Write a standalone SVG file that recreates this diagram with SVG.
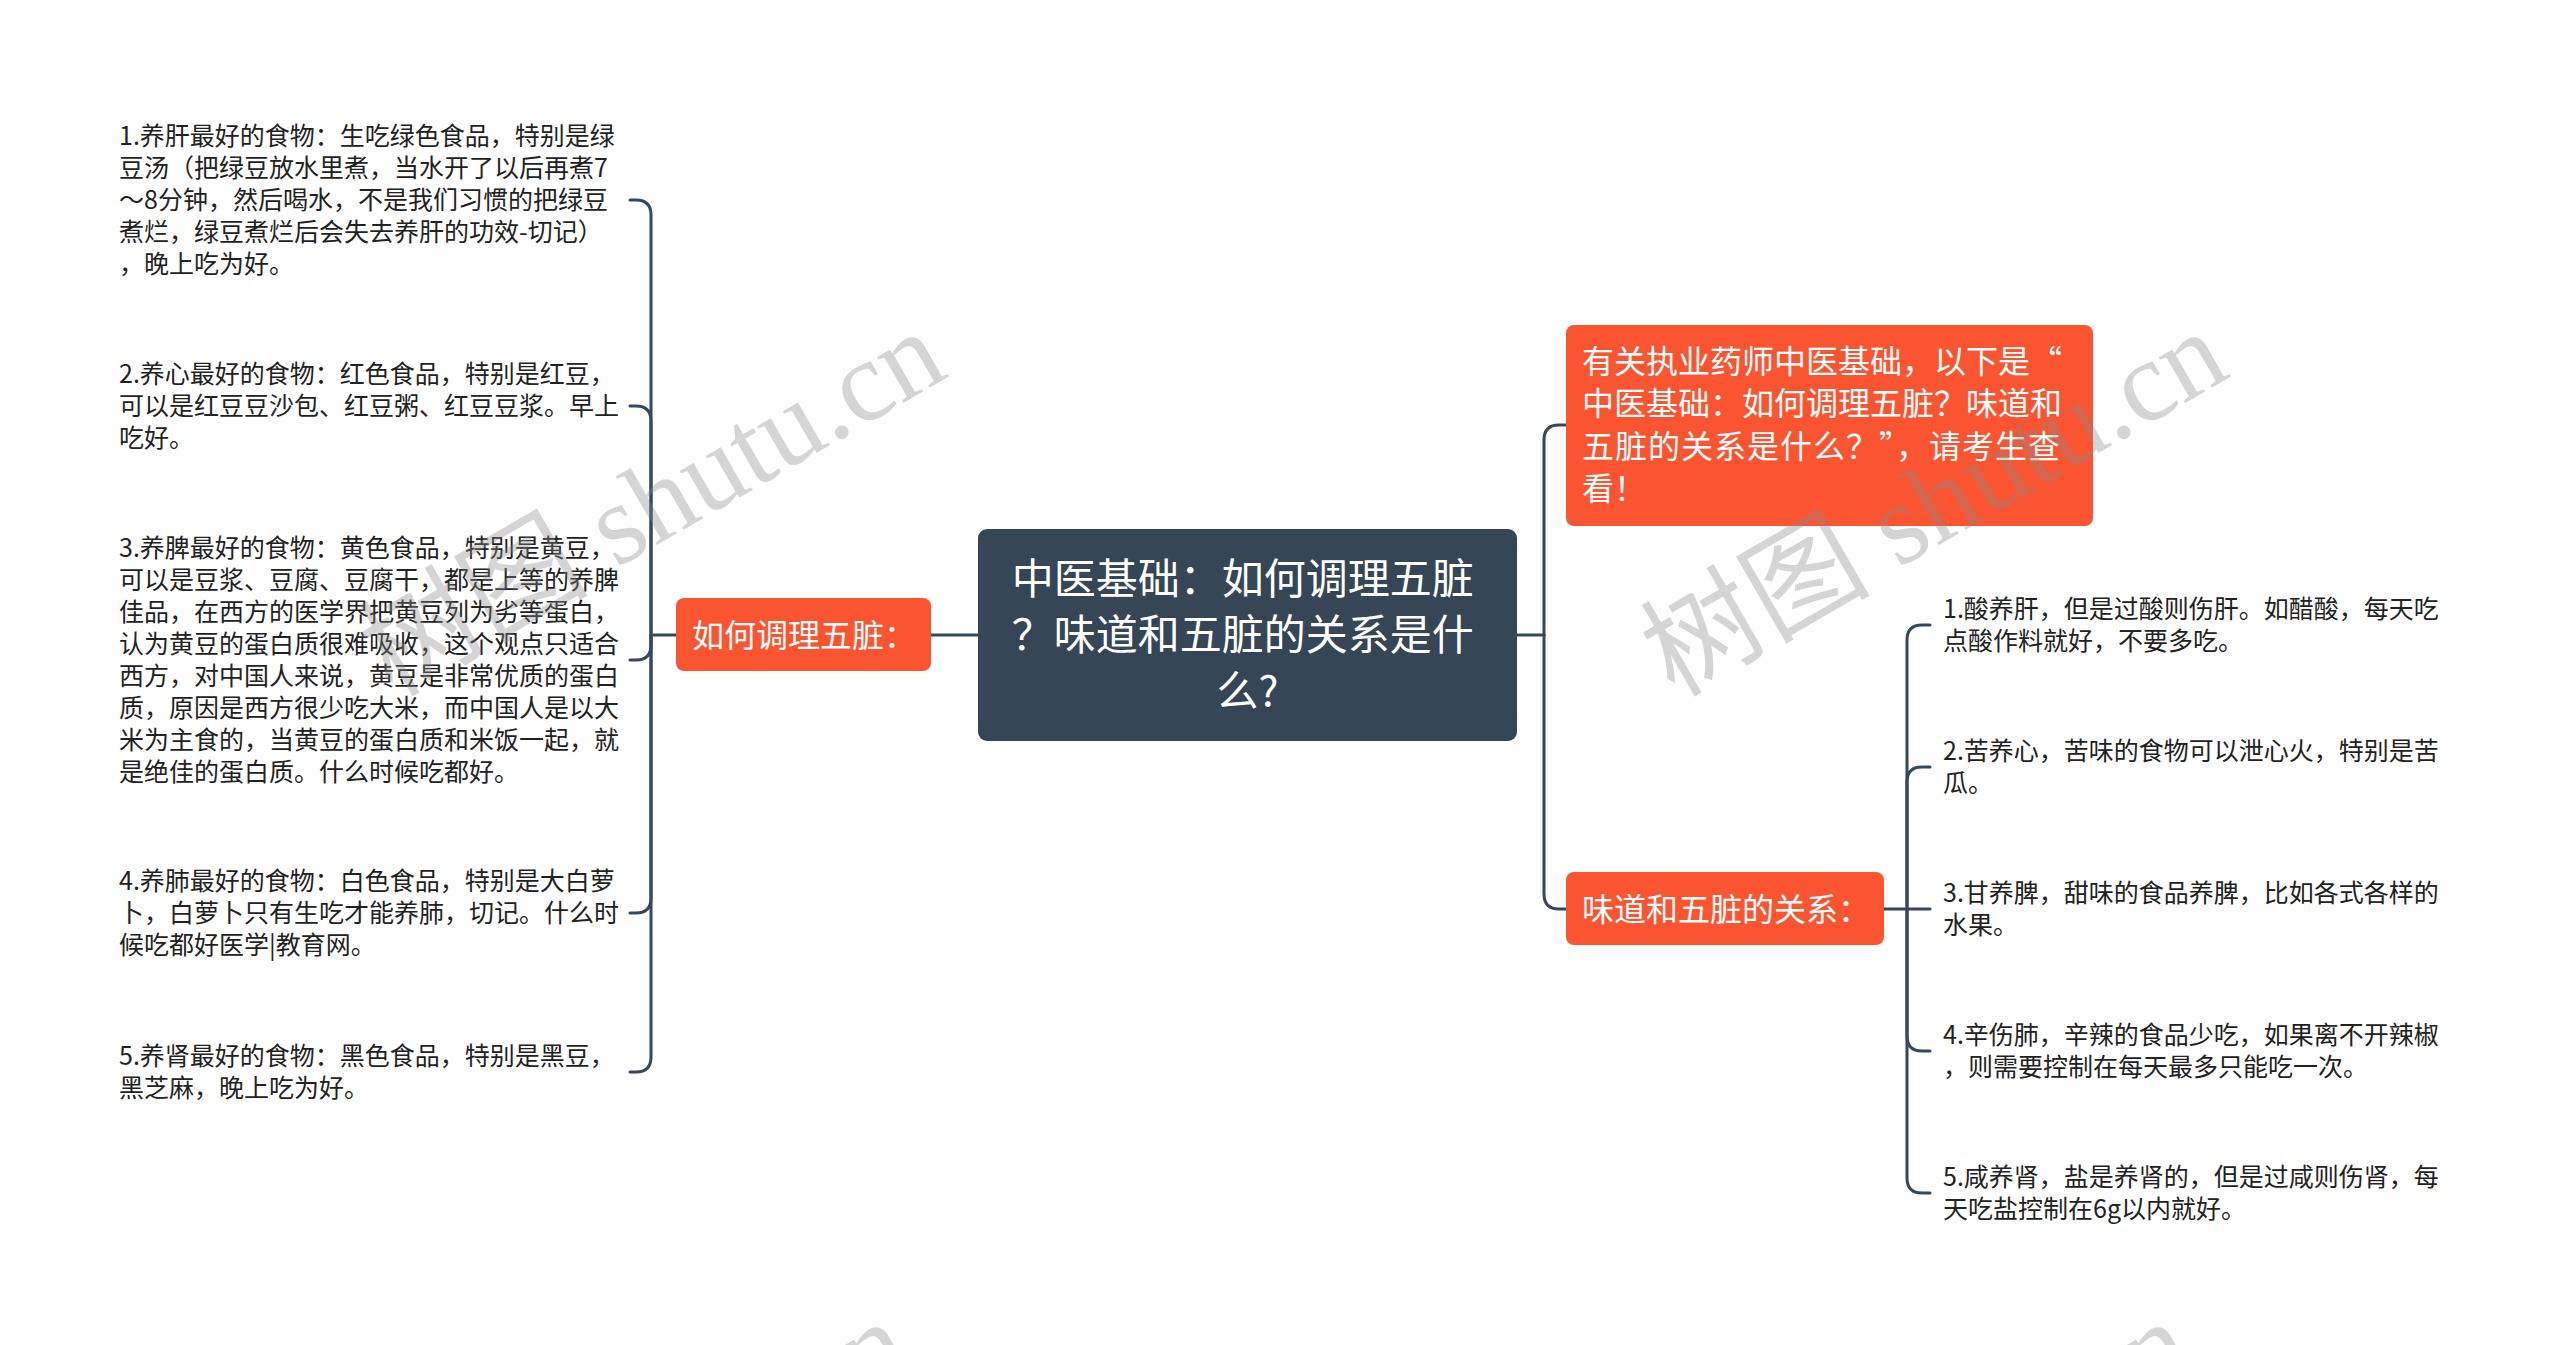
<svg xmlns="http://www.w3.org/2000/svg" width="2560" height="1345" viewBox="0 0 2560 1345">
<style>
.conn{fill:none;stroke:#34495e;stroke-width:3;stroke-linecap:round}
.leaf{font-family:"Noto Sans CJK SC","Noto Sans",sans-serif;font-size:25px;fill:#222}
.ntext{font-family:"Noto Sans CJK SC","Noto Sans",sans-serif;font-size:32px;fill:#fff}
.ctext{font-family:"Noto Sans CJK SC","Noto Sans",sans-serif;font-size:42px;fill:#fff}
.orange{fill:#fb5430}
.wm{font-family:"Liberation Serif","Noto Sans CJK SC",serif;font-size:115px;fill:#888;opacity:0.35}
</style>
<rect width="2560" height="1345" fill="#fff"/>
<g id="connectors">
  <path class="conn" d="M931 635 H978"/>
  <path class="conn" d="M1517 635 H1544"/>
  <path class="conn" d="M1544 635 V440 Q1544 425 1559 425 H1566"/>
  <path class="conn" d="M1544 635 V894 Q1544 909 1559 909 H1566"/>
  <path class="conn" d="M676 635 H651 V215 Q651 200 636 200 H630"/>
  <path class="conn" d="M651 635 V421 Q651 406 636 406 H630"/>
  <path class="conn" d="M651 635 V645 Q651 660 636 660 H630"/>
  <path class="conn" d="M651 635 V898 Q651 913 636 913 H630"/>
  <path class="conn" d="M651 635 V1057 Q651 1072 636 1072 H630"/>
  <path class="conn" d="M1884 909 H1907 V640 Q1907 625 1922 625 H1930"/>
  <path class="conn" d="M1907 909 V782 Q1907 767 1922 767 H1930"/>
  <path class="conn" d="M1907 909 H1930"/>
  <path class="conn" d="M1907 909 V1036 Q1907 1051 1922 1051 H1930"/>
  <path class="conn" d="M1907 909 V1178 Q1907 1193 1922 1193 H1930"/>
</g>
<g id="root">
  <rect x="978" y="529" width="539" height="212" rx="9" fill="#354656"/>
  <text class="ctext" text-anchor="middle">
    <tspan x="1247.5" y="594">中医基础：如何调理五脏</tspan>
    <tspan x="1247.5" y="650">？味道和五脏的关系是什</tspan>
    <tspan x="1247.5" y="706">么?</tspan>
  </text>
</g>
<g id="node-left">
  <rect class="orange" x="676" y="598" width="255" height="73" rx="8"/>
  <text class="ntext" x="692" y="646.5">如何调理五脏：</text>
</g>
<g id="node-intro">
  <rect class="orange" x="1566" y="325" width="527" height="201" rx="8"/>
  <text class="ntext">
    <tspan x="1582" y="372.5">有关执业药师中医基础，以下是“</tspan>
    <tspan x="1582" y="415">中医基础：如何调理五脏？味道和</tspan>
    <tspan x="1582" y="457.5" textLength="478" lengthAdjust="spacing">五脏的关系是什么？”，请考生查</tspan>
    <tspan x="1582" y="500">看！</tspan>
  </text>
</g>
<g id="node-right">
  <rect class="orange" x="1566" y="872" width="318" height="73" rx="8"/>
  <text class="ntext" x="1582" y="920.5">味道和五脏的关系：</text>
</g>
<g id="leaf-l1">
  <text class="leaf">
    <tspan x="119" y="145">1.养肝最好的食物：生吃绿色食品，特别是绿</tspan>
    <tspan x="119" y="177">豆汤（把绿豆放水里煮，当水开了以后再煮7</tspan>
    <tspan x="119" y="209">～8分钟，然后喝水，不是我们习惯的把绿豆</tspan>
    <tspan x="119" y="241">煮烂，绿豆煮烂后会失去养肝的功效-切记）</tspan>
    <tspan x="119" y="273">，晚上吃为好。</tspan>
  </text>
</g>
<g id="leaf-l2">
  <text class="leaf">
    <tspan x="119" y="383">2.养心最好的食物：红色食品，特别是红豆，</tspan>
    <tspan x="119" y="415">可以是红豆豆沙包、红豆粥、红豆豆浆。早上</tspan>
    <tspan x="119" y="447">吃好。</tspan>
  </text>
</g>
<g id="leaf-l3">
  <text class="leaf">
    <tspan x="119" y="557">3.养脾最好的食物：黄色食品，特别是黄豆，</tspan>
    <tspan x="119" y="589">可以是豆浆、豆腐、豆腐干，都是上等的养脾</tspan>
    <tspan x="119" y="621">佳品，在西方的医学界把黄豆列为劣等蛋白，</tspan>
    <tspan x="119" y="653">认为黄豆的蛋白质很难吸收，这个观点只适合</tspan>
    <tspan x="119" y="685">西方，对中国人来说，黄豆是非常优质的蛋白</tspan>
    <tspan x="119" y="717">质，原因是西方很少吃大米，而中国人是以大</tspan>
    <tspan x="119" y="749">米为主食的，当黄豆的蛋白质和米饭一起，就</tspan>
    <tspan x="119" y="781">是绝佳的蛋白质。什么时候吃都好。</tspan>
  </text>
</g>
<g id="leaf-l4">
  <text class="leaf">
    <tspan x="119" y="890">4.养肺最好的食物：白色食品，特别是大白萝</tspan>
    <tspan x="119" y="922">卜，白萝卜只有生吃才能养肺，切记。什么时</tspan>
    <tspan x="119" y="954">候吃都好医学|教育网。</tspan>
  </text>
</g>
<g id="leaf-l5">
  <text class="leaf">
    <tspan x="119" y="1065">5.养肾最好的食物：黑色食品，特别是黑豆，</tspan>
    <tspan x="119" y="1097">黑芝麻，晚上吃为好。</tspan>
  </text>
</g>
<g id="leaf-r1">
  <text class="leaf">
    <tspan x="1943" y="618">1.酸养肝，但是过酸则伤肝。如醋酸，每天吃</tspan>
    <tspan x="1943" y="650">点酸作料就好，不要多吃。</tspan>
  </text>
</g>
<g id="leaf-r2">
  <text class="leaf">
    <tspan x="1943" y="760">2.苦养心，苦味的食物可以泄心火，特别是苦</tspan>
    <tspan x="1943" y="792">瓜。</tspan>
  </text>
</g>
<g id="leaf-r3">
  <text class="leaf">
    <tspan x="1943" y="902">3.甘养脾，甜味的食品养脾，比如各式各样的</tspan>
    <tspan x="1943" y="934">水果。</tspan>
  </text>
</g>
<g id="leaf-r4">
  <text class="leaf">
    <tspan x="1943" y="1044">4.辛伤肺，辛辣的食品少吃，如果离不开辣椒</tspan>
    <tspan x="1943" y="1076">，则需要控制在每天最多只能吃一次。</tspan>
  </text>
</g>
<g id="leaf-r5">
  <text class="leaf">
    <tspan x="1943" y="1186">5.咸养肾，盐是养肾的，但是过咸则伤肾，每</tspan>
    <tspan x="1943" y="1218">天吃盐控制在6g以内就好。</tspan>
  </text>
</g>
<g id="watermarks">
  <text class="wm" transform="translate(392 698) rotate(-30)">树图 shutu.cn</text>
  <text class="wm" transform="translate(1674 698) rotate(-30)">树图 shutu.cn</text>
  <text class="wm" transform="translate(356 1688) rotate(-30)">树图 shutu.cn</text>
  <text class="wm" transform="translate(1638 1688) rotate(-30)">树图 shutu.cn</text>
</g>
</svg>
